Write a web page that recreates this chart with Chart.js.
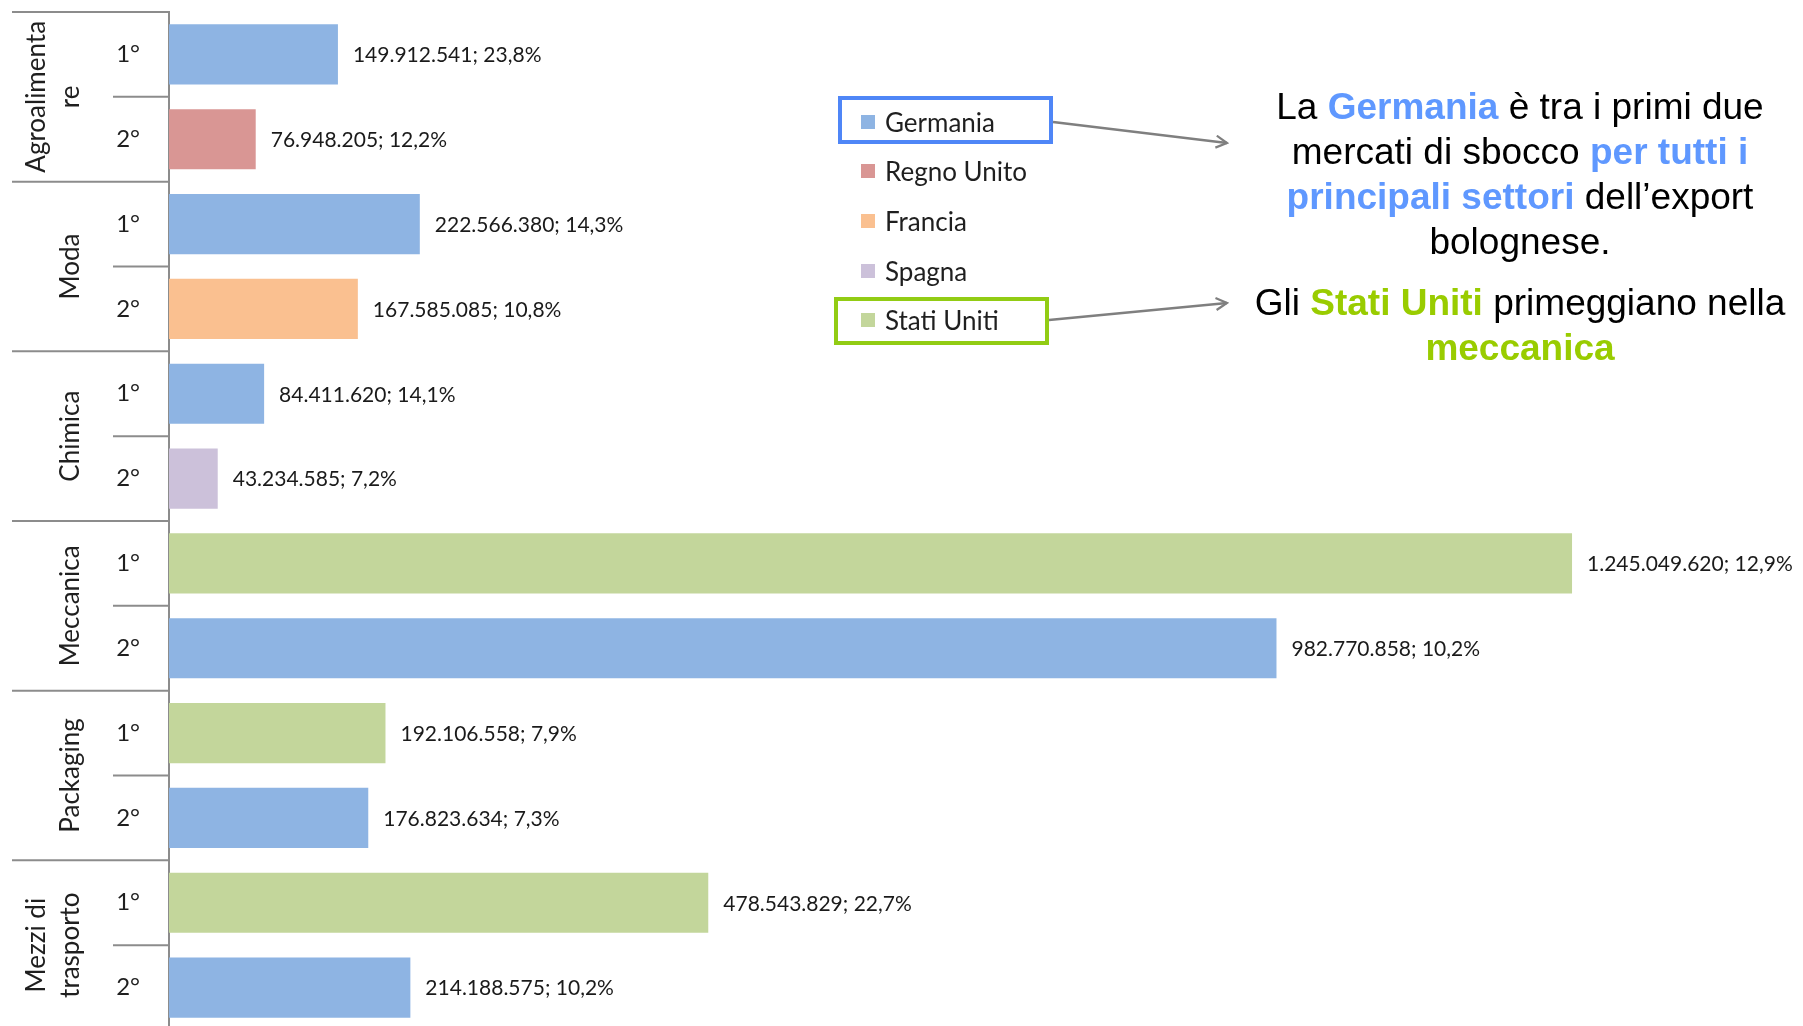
<!DOCTYPE html>
<html lang="it">
  <head>
    <meta charset="UTF-8">
    <script src="https://cdn.jsdelivr.net/npm/chart.js@4.4.1/dist/chart.umd.min.js"></script>
    <style>
      html, body {
        margin: 0;
        padding: 0;
        background: #FFFFFF;
        overflow: hidden;
      }
      .page {
        position: relative;
        width: 1803px;
        height: 1026px;
        overflow: hidden;
      }
      .chart-box {
        position: absolute;
        left: 0;
        top: 0;
        width: 1803px;
        height: 1035px;
      }
      .legend {
        position: absolute;
        left: 861px;
        top: 97px;
        font-family: 'Lato', sans-serif;
        font-size: 26px;
        color: #1f1f1f;
      }
      .legend-item {
        height: 49.6px;
        display: flex;
        align-items: center;
      }
      .legend-item span.sw {
        width: 14px;
        height: 14px;
        margin-right: 10px;
      }
      .hl {
        position: absolute;
        border: 4px solid;
        box-sizing: border-box;
      }
      .note {
        position: absolute;
        left: 1220px;
        width: 600px;
        text-align: center;
        font-family: 'Liberation Sans', Arial, sans-serif;
        font-size: 37px;
        line-height: 45px;
        color: #000000;
      }
      .note b.de { color: #5f98ff; }
      .note b.us { color: #99cc00; }
      svg.arrows {
        position: absolute;
        left: 0;
        top: 0;
      }
    </style>
  </head>
  <body>
    <div class="page">
      <div class="chart-box">
        <canvas id="exportChart"></canvas>
      </div>

      <div class="legend" id="legend"></div>
      <div class="hl" style="left:838px; top:96px; width:215px; height:48px; border-color:#4f86f7;"></div>
      <div class="hl" style="left:834px; top:297px; width:215px; height:48px; border-color:#92cc14;"></div>

      <svg class="arrows" width="1803" height="1026">
        <defs>
          <marker id="head" markerWidth="14" markerHeight="14" refX="12" refY="7" orient="auto" markerUnits="userSpaceOnUse">
            <path d="M1,1 L12,7 L1,13" fill="none" stroke="#7f7f7f" stroke-width="2.2"/>
          </marker>
        </defs>
        <line x1="1053" y1="122" x2="1227" y2="143" stroke="#7f7f7f" stroke-width="2.5" marker-end="url(#head)"/>
        <line x1="1049" y1="320" x2="1227" y2="303" stroke="#7f7f7f" stroke-width="2.5" marker-end="url(#head)"/>
      </svg>

      <div class="note" style="top:84px;">
        La <b class="de">Germania</b> è tra i primi due<br>
        mercati di sbocco <b class="de">per tutti i</b><br>
        <b class="de">principali settori</b> dell’export<br>
        bolognese.
      </div>
      <div class="note" style="top:280px;">
        Gli <b class="us">Stati Uniti</b> primeggiano nella<br>
        <b class="us">meccanica</b>
      </div>
    </div>

    <script>
      // settori (due righe per settore: 1° e 2° mercato)
      const sectors = [
        ['Agroalimenta', 're'],
        ['Moda'],
        ['Chimica'],
        ['Meccanica'],
        ['Packaging'],
        ['Mezzi di', 'trasporto']
      ];
      const ranks = ['1°', '2°', '1°', '2°', '1°', '2°', '1°', '2°', '1°', '2°', '1°', '2°'];
      const exportValues = [149912541, 76948205, 222566380, 167585085, 84411620, 43234585,
                            1245049620, 982770858, 192106558, 176823634, 478543829, 214188575];
      const shares = [23.8, 12.2, 14.3, 10.8, 14.1, 7.2, 12.9, 10.2, 7.9, 7.3, 22.7, 10.2];
      const markets = ['Germania', 'Regno Unito', 'Germania', 'Francia', 'Germania', 'Spagna',
                       'Stati Uniti', 'Germania', 'Stati Uniti', 'Germania', 'Stati Uniti', 'Germania'];
      const countries = ['Germania', 'Regno Unito', 'Francia', 'Spagna', 'Stati Uniti'];
      const countryColors = ['#8EB4E3', '#D99694', '#FAC090', '#CCC1DA', '#C3D69B'];

      const colorOf = name => countryColors[countries.indexOf(name)];
      const fmtNum = n => String(n).replace(/\B(?=(\d{3})+(?!\d))/g, '.');
      const fmtPct = p => p.toFixed(1).replace('.', ',') + '%';

      // legenda html
      const legendEl = document.getElementById('legend');
      countries.forEach((c, i) => {
        const row = document.createElement('div');
        row.className = 'legend-item';
        row.innerHTML = '<span class="sw" style="background:' + countryColors[i] + '"></span>' + c;
        legendEl.appendChild(row);
      });

      // etichette settori + linee separatrici a sinistra dell'asse
      const sectorAxis = {
        id: 'sectorAxis',
        afterDraw(chart) {
          const ctx = chart.ctx;
          const y = chart.scales.y;
          const left = chart.chartArea.left;
          const step = y.getPixelForValue(1) - y.getPixelForValue(0);
          ctx.save();
          ctx.strokeStyle = '#8c8c8c';
          ctx.lineWidth = 2;
          for (let i = 0; i <= ranks.length; i++) {
            const py = y.getPixelForValue(0) + (i - 0.5) * step;
            ctx.beginPath();
            ctx.moveTo(i % 2 === 0 ? 12 : 113, py);
            ctx.lineTo(left, py);
            ctx.stroke();
          }
          ctx.fillStyle = '#1f1f1f';
          ctx.font = '26px Lato';
          ctx.textAlign = 'center';
          ctx.textBaseline = 'middle';
          sectors.forEach((lines, g) => {
            const cy = (y.getPixelForValue(2 * g) + y.getPixelForValue(2 * g + 1)) / 2;
            lines.forEach((txt, j) => {
              const cx = 71 - (lines.length - 1 - j) * 34;
              ctx.save();
              ctx.translate(cx, cy);
              ctx.rotate(-Math.PI / 2);
              ctx.fillText(txt, 0, 0);
              ctx.restore();
            });
          });
          ctx.restore();
        }
      };

      // valore; quota accanto a ogni barra
      const barLabels = {
        id: 'barLabels',
        afterDatasetsDraw(chart) {
          const ctx = chart.ctx;
          const meta = chart.getDatasetMeta(0);
          ctx.save();
          ctx.fillStyle = '#1a1a1a';
          ctx.font = '21px Lato';
          ctx.textAlign = 'left';
          ctx.textBaseline = 'middle';
          meta.data.forEach((bar, i) => {
            ctx.fillText(fmtNum(exportValues[i]) + '; ' + fmtPct(shares[i]), bar.x + 15, bar.y + 1);
          });
          ctx.restore();
        }
      };

      const ctx = document.getElementById('exportChart').getContext('2d');
      const exportChart = new Chart(ctx, {
        type: 'bar',
        data: {
          labels: ranks,
          datasets: [{
            label: 'Export',
            data: exportValues,
            backgroundColor: markets.map(colorOf),
            borderWidth: 0,
            barPercentage: 0.71,
            categoryPercentage: 1.0
          }]
        },
        options: {
          indexAxis: 'y',
          responsive: true,
          maintainAspectRatio: false,
          animation: false,
          layout: {
            padding: { top: 12, bottom: 5, left: 0, right: 0 }
          },
          plugins: {
            legend: { display: false },
            tooltip: { enabled: false }
          },
          scales: {
            x: {
              display: false,
              min: 0,
              max: 1450000000
            },
            y: {
              afterFit(scale) {
                scale.width = 169;
                scale.paddingTop = 0;
                scale.paddingBottom = 0;
              },
              grid: { display: false, drawTicks: false },
              border: { display: true, color: '#8c8c8c', width: 2 },
              ticks: {
                color: '#1f1f1f',
                padding: 29,
                font: { family: 'Lato', size: 24 }
              }
            }
          }
        },
        plugins: [sectorAxis, barLabels]
      });
    </script>
  </body>
</html>
